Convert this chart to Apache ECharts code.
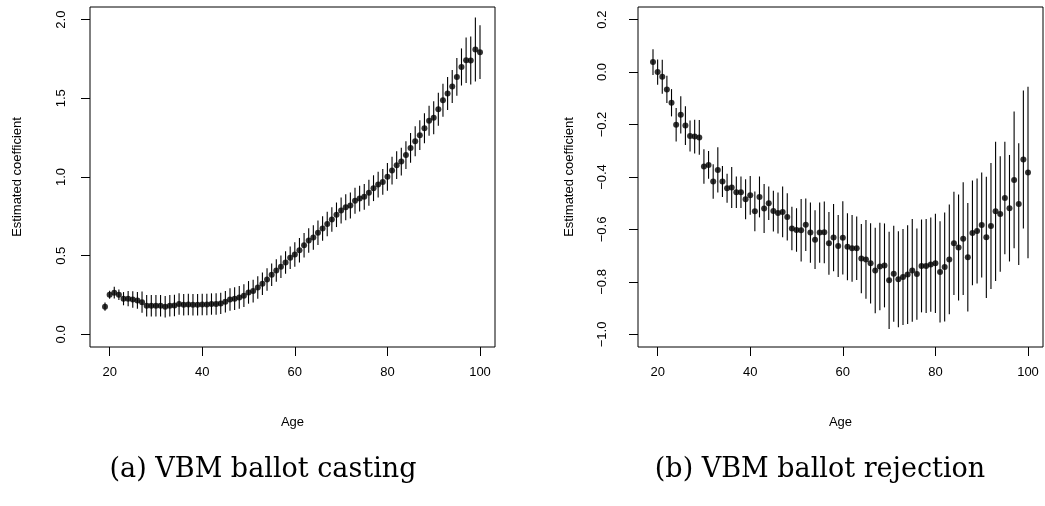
<!DOCTYPE html>
<html>
<head>
<meta charset="utf-8">
<script src="https://cdn.jsdelivr.net/npm/echarts@6/dist/echarts.min.js"></script>
<style>
html,body{margin:0;padding:0;background:#fff;}
#chart{width:1045px;height:506px;}
</style>
</head>
<body>
<div id="chart"></div>
<script>
const ages = [19,20,21,22,23,24,25,26,27,28,29,30,31,32,33,34,35,36,37,38,39,40,41,42,43,44,45,46,47,48,49,50,51,52,53,54,55,56,57,58,59,60,61,62,63,64,65,66,67,68,69,70,71,72,73,74,75,76,77,78,79,80,81,82,83,84,85,86,87,88,89,90,91,92,93,94,95,96,97,98,99,100];

// (a) VBM ballot casting: estimate and half-width of interval
const castEst = [0.176,0.252,0.265,0.252,0.227,0.227,0.222,0.216,0.205,0.182,0.182,0.182,0.182,0.176,0.182,0.184,0.193,0.188,0.190,0.188,0.188,0.190,0.190,0.193,0.193,0.197,0.207,0.222,0.227,0.235,0.246,0.267,0.275,0.298,0.322,0.349,0.379,0.406,0.430,0.457,0.487,0.508,0.535,0.567,0.597,0.616,0.646,0.673,0.701,0.730,0.760,0.787,0.808,0.819,0.849,0.863,0.874,0.900,0.929,0.952,0.969,1.001,1.041,1.075,1.098,1.139,1.185,1.227,1.266,1.310,1.357,1.376,1.431,1.488,1.530,1.575,1.636,1.699,1.742,1.740,1.810,1.793];
const castHalf = [0.026,0.026,0.037,0.034,0.042,0.048,0.052,0.053,0.067,0.068,0.068,0.068,0.068,0.068,0.068,0.068,0.068,0.068,0.068,0.068,0.068,0.068,0.068,0.068,0.068,0.068,0.068,0.072,0.072,0.072,0.072,0.072,0.072,0.072,0.072,0.072,0.072,0.072,0.072,0.072,0.072,0.078,0.078,0.078,0.078,0.078,0.078,0.078,0.078,0.078,0.078,0.082,0.082,0.082,0.082,0.082,0.082,0.082,0.082,0.082,0.082,0.088,0.088,0.088,0.088,0.088,0.095,0.095,0.095,0.095,0.095,0.105,0.105,0.105,0.105,0.105,0.120,0.118,0.145,0.153,0.204,0.171];

// (b) VBM ballot rejection
const rejEst = [0.038,0.000,-0.018,-0.066,-0.117,-0.201,-0.163,-0.204,-0.244,-0.246,-0.249,-0.360,-0.354,-0.417,-0.373,-0.417,-0.443,-0.440,-0.458,-0.458,-0.485,-0.470,-0.531,-0.476,-0.520,-0.500,-0.530,-0.537,-0.533,-0.552,-0.596,-0.602,-0.603,-0.582,-0.612,-0.639,-0.612,-0.611,-0.653,-0.631,-0.663,-0.632,-0.666,-0.672,-0.672,-0.711,-0.714,-0.729,-0.756,-0.741,-0.737,-0.794,-0.769,-0.790,-0.781,-0.772,-0.756,-0.770,-0.739,-0.739,-0.734,-0.729,-0.762,-0.743,-0.714,-0.653,-0.669,-0.635,-0.706,-0.613,-0.606,-0.583,-0.630,-0.587,-0.531,-0.541,-0.480,-0.519,-0.411,-0.503,-0.333,-0.383];
const rejHalf = [0.049,0.048,0.065,0.052,0.052,0.064,0.071,0.074,0.059,0.064,0.066,0.066,0.053,0.066,0.086,0.059,0.055,0.078,0.060,0.060,0.076,0.074,0.076,0.078,0.093,0.064,0.078,0.078,0.097,0.090,0.083,0.083,0.119,0.100,0.115,0.112,0.115,0.118,0.120,0.128,0.118,0.140,0.128,0.127,0.121,0.132,0.150,0.153,0.163,0.167,0.160,0.185,0.183,0.183,0.183,0.188,0.196,0.174,0.177,0.179,0.180,0.189,0.193,0.208,0.209,0.197,0.202,0.215,0.207,0.200,0.200,0.200,0.231,0.240,0.265,0.220,0.214,0.203,0.261,0.232,0.263,0.327];

const xTicks = [20,40,60,80,100];
const castTicks = [0,0.5,1,1.5,2];
const rejTicks = [-1,-0.8,-0.6,-0.4,-0.2,0,0.2];

const captionA = '(a) VBM ballot casting';
const captionB = '(b) VBM ballot rejection';

const sans = 'Liberation Sans';
const fmtY = v => { let s = (Math.abs(v) < 1e-9 ? 0 : v).toFixed(1); return s.replace('-', '\u2212'); };

function xAxisFor(gi) {
  return {
    type: 'value', gridIndex: gi, min: 15.76, max: 103.24,
    axisLine: {show: false, onZero: false},
    splitLine: {show: false},
    axisTick: {show: true, inside: false, length: 9, customValues: xTicks, lineStyle: {color: '#000', width: 1}},
    axisLabel: {customValues: xTicks, margin: 19, color: '#000', fontFamily: sans, fontSize: 13},
    name: 'Age', nameLocation: 'middle', nameGap: 69,
    nameTextStyle: {color: '#000', fontFamily: sans, fontSize: 13}
  };
}
function yAxisFor(gi, min, max, ticks, gap, margin) {
  return {
    type: 'value', gridIndex: gi, min: min, max: max,
    axisLine: {show: false, onZero: false},
    splitLine: {show: false},
    axisTick: {show: true, inside: false, length: 9, customValues: ticks, lineStyle: {color: '#000', width: 1}},
    axisLabel: {customValues: ticks, rotate: 90, margin: margin, color: '#000', fontFamily: sans, fontSize: 13, formatter: fmtY},
    name: 'Estimated coefficient', nameLocation: 'middle', nameGap: gap, nameRotate: 90,
    nameTextStyle: {color: '#000', fontFamily: sans, fontSize: 13}
  };
}
function barRender(params, api) {
  const x = api.value(0), lo = api.value(1), hi = api.value(2);
  const p1 = api.coord([x, lo]);
  const p2 = api.coord([x, hi]);
  return {type: 'line', shape: {x1: p1[0], y1: p1[1], x2: p2[0], y2: p2[1]}, style: {stroke: '#000', lineWidth: 1.1}};
}

const castBars = ages.map((a, i) => [a, castEst[i] - castHalf[i], castEst[i] + castHalf[i]]);
const rejBars = ages.map((a, i) => [a, rejEst[i] - rejHalf[i], rejEst[i] + rejHalf[i]]);
const castPts = ages.map((a, i) => [a, castEst[i]]);
const rejPts = ages.map((a, i) => [a, rejEst[i]]);

const capStyle = {fontFamily: 'DejaVu Serif', fontSize: 27, fontWeight: 'normal', color: '#000'};
const chart = echarts.init(document.getElementById('chart'), null, {renderer: 'canvas'});
chart.setOption({
  animation: false,
  backgroundColor: '#fff',
  title: [
    {text: captionA, left: 258, top: 451, textAlign: 'center', textStyle: capStyle},
    {text: captionB, left: 815, top: 451, textAlign: 'center', textStyle: capStyle}
  ],
  grid: [
    {left: 90, right: 550, top: 7, bottom: 159, show: true, borderColor: '#000', borderWidth: 1, backgroundColor: 'transparent'},
    {left: 638, right: 2, top: 7, bottom: 159, show: true, borderColor: '#000', borderWidth: 1, backgroundColor: 'transparent'}
  ],
  xAxis: [xAxisFor(0), xAxisFor(1)],
  yAxis: [yAxisFor(0, -0.08, 2.08, castTicks, 66, 22), yAxisFor(1, -1.048, 0.248, rejTicks, 62, 29)],
  series: [
    {type: 'custom', xAxisIndex: 0, yAxisIndex: 0, renderItem: barRender, data: castBars, encode: {x: 0, y: [1, 2]}, silent: true},
    {type: 'scatter', xAxisIndex: 0, yAxisIndex: 0, data: castPts, symbol: 'circle', symbolSize: 6, itemStyle: {color: '#000'}, silent: true},
    {type: 'custom', xAxisIndex: 1, yAxisIndex: 1, renderItem: barRender, data: rejBars, encode: {x: 0, y: [1, 2]}, silent: true},
    {type: 'scatter', xAxisIndex: 1, yAxisIndex: 1, data: rejPts, symbol: 'circle', symbolSize: 6, itemStyle: {color: '#000'}, silent: true}
  ]
});
</script>
</body>
</html>
